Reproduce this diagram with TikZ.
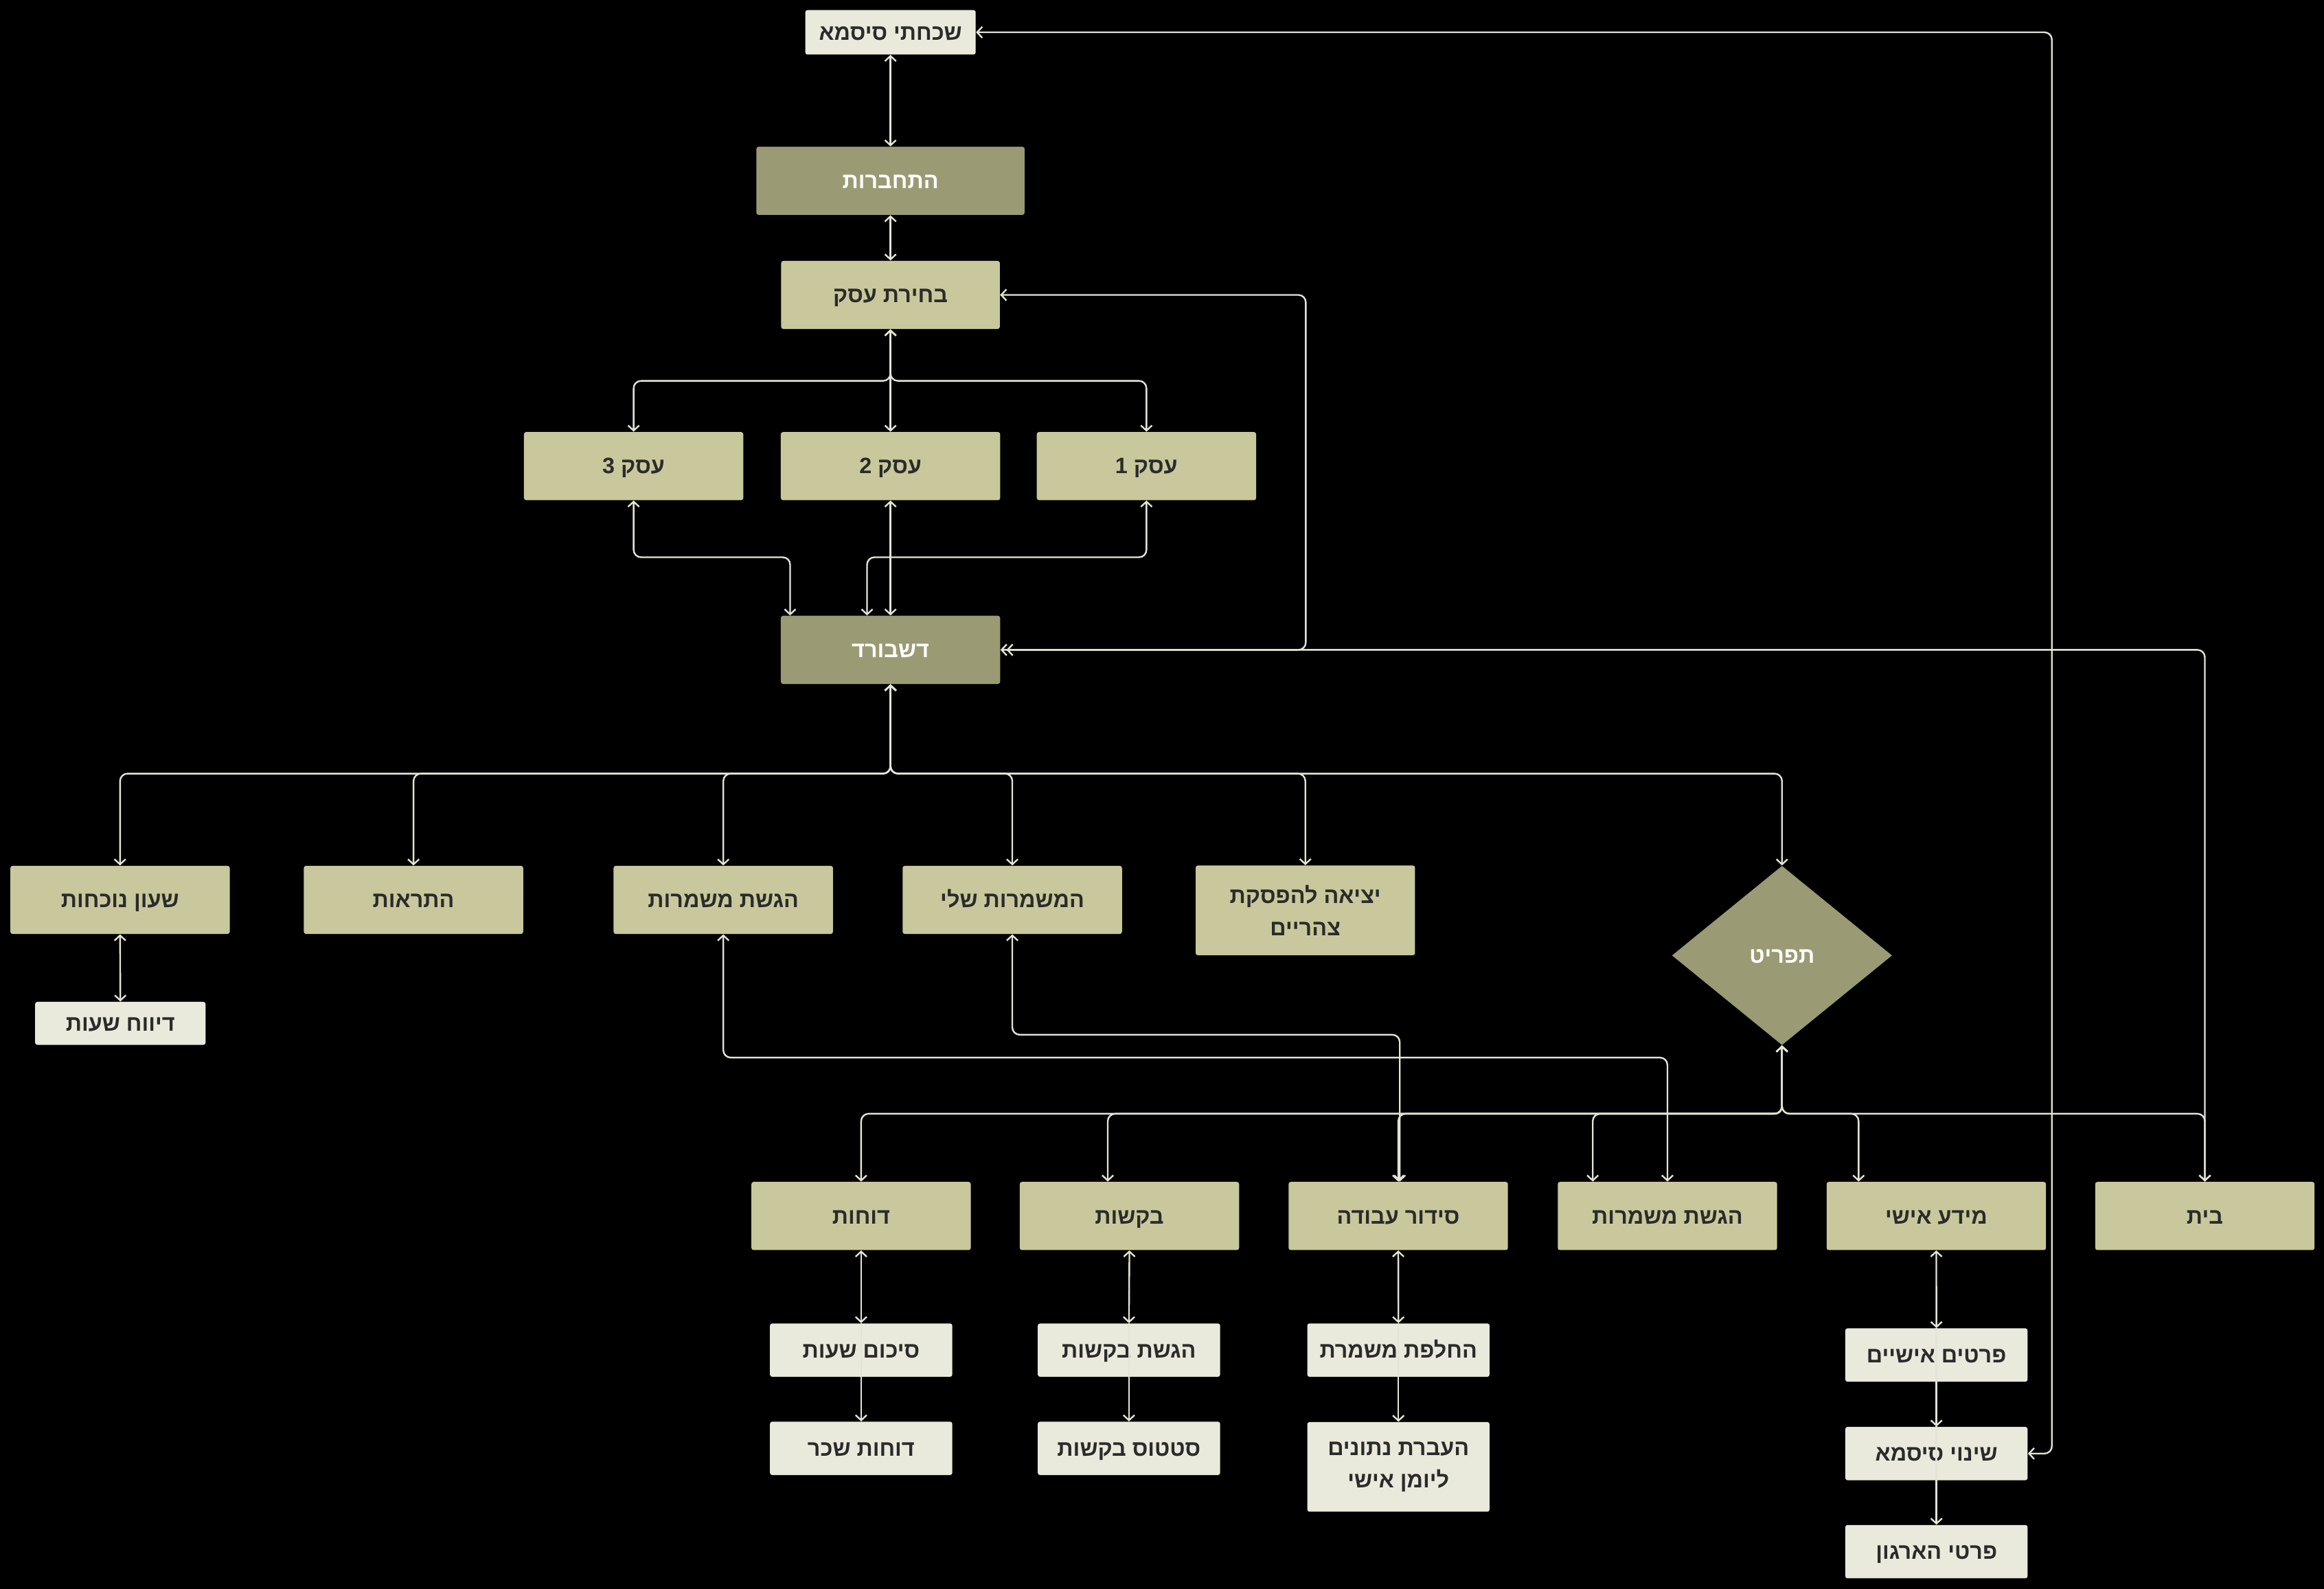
\documentclass[tikz,border=0pt]{standalone}
\usepackage{fontspec}
\TeXXeTstate=1
\newfontfamily\hebfont[Script=Hebrew]{Liberation Sans}
\usetikzlibrary{arrows.meta,shapes.geometric}
\definecolor{lightc}{HTML}{E9EADB}
\definecolor{midc}{HTML}{C8C89C}
\definecolor{darkc}{HTML}{9A9A74}
\definecolor{linec}{HTML}{E4E4D6}
\definecolor{txtc}{HTML}{2B2B2B}
\newcommand\hb[1]{\beginR #1\endR}
\begin{document}
\begin{tikzpicture}[x=1pt,y=-1pt,
  box/.style={rectangle, rounded corners=1.5pt, inner sep=0pt, align=center, text=txtc,
    text height=10.6pt, text depth=0.2pt,
    font=\hebfont\bfseries\fontsize{15}{22}\selectfont},
  twoline/.style={text height={}, text depth={}},
  lightbox/.style={box, fill=lightc, minimum width=123pt, minimum height=36pt},
  midbox/.style={box, fill=midc, minimum width=148pt, minimum height=46pt},
  darkbox/.style={box, fill=darkc, text=white, minimum width=148pt, minimum height=46pt},
  conn/.style={draw=linec, line width=1.1pt, rounded corners=5pt},
  >={Straight Barb[length=3.5pt,width=7.5pt]}
]
\fill[black] (0,0) rectangle (1568,1072);
\useasboundingbox (0,0) rectangle (1568,1072);

% top column
\node[lightbox, minimum width=115pt, minimum height=30pt] (forgot) at (600.8,21.8) {\hb{שכחתי סיסמא}};
\node[darkbox, minimum width=181pt] (login) at (600.8,122) {\hb{התחברות}};
\node[midbox, minimum width=147.5pt] (choose) at (600.8,199) {\hb{בחירת עסק}};
\node[midbox] (b3) at (427.5,314.5) {\hb{עסק 3}};
\node[midbox] (b2) at (600.8,314.5) {\hb{עסק 2}};
\node[midbox] (b1) at (773.5,314.5) {\hb{עסק 1}};
\node[darkbox] (dash) at (600.8,438.5) {\hb{דשבורד}};

% row 1
\node[midbox] (clock) at (81,607.2) {\hb{שעון נוכחות}};
\node[midbox] (alerts) at (279,607.2) {\hb{התראות}};
\node[midbox] (shifts1) at (488,607.2) {\hb{הגשת משמרות}};
\node[midbox] (mine) at (683,607.2) {\hb{המשמרות שלי}};
\node[midbox, twoline, minimum height=60.6pt] (lunch) at (880.7,614.3) {\hb{יציאה להפסקת}\\\hb{צהריים}};
\node[diamond, fill=darkc, minimum width=148.5pt, minimum height=121pt, inner sep=0pt,
  text=white, text height=10.6pt, text depth=0.2pt,
  font=\hebfont\bfseries\fontsize{15}{22}\selectfont] (menu) at (1202.3,644.7) {\hb{תפריט}};
\node[lightbox, minimum width=115pt, minimum height=29pt] (hours) at (81.2,690.5) {\hb{דיווח שעות}};

% row 2
\node[midbox] (rep) at (581,820.5) {\hb{דוחות}};
\node[midbox] (req) at (762,820.5) {\hb{בקשות}};
\node[midbox] (sched) at (943.4,820.5) {\hb{סידור עבודה}};
\node[midbox] (shifts2) at (1125,820.5) {\hb{הגשת משמרות}};
\node[midbox] (info) at (1306.4,820.5) {\hb{מידע אישי}};
\node[midbox] (home) at (1487.6,820.5) {\hb{בית}};

% row 3
\node[lightbox] (sum) at (581,911) {\hb{סיכום שעות}};
\node[lightbox] (pay) at (581,977.3) {\hb{דוחות שכר}};
\node[lightbox] (reqsub) at (761.7,911) {\hb{הגשת בקשות}};
\node[lightbox] (reqstat) at (761.7,977.3) {\hb{סטטוס בקשות}};
\node[lightbox] (swap) at (943.5,911) {\hb{החלפת משמרת}};
\node[lightbox, twoline, minimum height=60.5pt] (sync) at (943.5,989.8) {\hb{העברת נתונים}\\\hb{ליומן אישי}};
\node[lightbox] (pers) at (1306.5,914.3) {\hb{פרטים אישיים}};
\node[lightbox] (pwd) at (1306.5,980.8) {\hb{שינוי סיסמא}};
\node[lightbox] (org) at (1306.5,1047) {\hb{פרטי הארגון}};

% helper coordinates
\coordinate (busC) at (0,257);
\coordinate (busD) at (0,376);
\coordinate (busE) at (0,522);
\coordinate (busG) at (0,751.5);
\coordinate (yK) at (0,713.6);
\coordinate (yL) at (0,698.2);
\coordinate (xI) at (881,0);
\coordinate (xJ) at (1384.4,0);
\coordinate (d3in) at ([xshift=6.5pt]dash.north west);
\coordinate (d1in) at ([xshift=-15.8pt]dash.north);
\coordinate (reqin) at ([xshift=-14.6pt]req.north);
\coordinate (sh2in) at ([xshift=-50.4pt]shifts2.north);
\coordinate (infoin) at ([xshift=-52.4pt]info.north);
\coordinate (schedin) at ([xshift=1pt]sched.north);

% connectors
\draw[conn,<->] (forgot.south) -- (login.north);
\draw[conn,<->] (login.south) -- (choose.north);
\draw[conn,<->] (choose.south) -- (b2.north);
\draw[conn,<->] (choose.south) |- (b1.north |- busC) -- (b1.north);
\draw[conn,<->] (choose.south) |- (b3.north |- busC) -- (b3.north);

\draw[conn,<->] (b2.south) -- (dash.north);
\draw[conn,<->] (b3.south) |- (d3in |- busD) -- (d3in);
\draw[conn,<->] (b1.south) |- (d1in |- busD) -- (d1in);

\foreach \n in {clock,alerts,shifts1,mine,lunch,menu}
  \draw[conn,<->] (dash.south) |- (\n.north |- busE) -- (\n.north);

\draw[conn,<->] (clock.south) -- (hours.north);

\foreach \n in {rep.north,reqin,sched.north,sh2in,infoin,home.north}
  \draw[conn,<->] (menu.south) |- (\n |- busG) -- (\n);

\draw[conn,<->] (home.north) |- (dash.east);
\draw[conn,<->, shorten <=4pt] (dash.east) -| (xI |- choose.east) -- (choose.east);
\draw[conn,<->] (forgot.east) -| (xJ |- pwd.east) -- (pwd.east);
\draw[conn,<->] (shifts2.north) |- (shifts1.south |- yK) -- (shifts1.south);
\draw[conn,<->] (schedin) |- (mine.south |- yL) -- (mine.south);

\draw[conn,<->] (rep.south) -- (sum.north);
\draw[conn,->] (sum.north) -- (pay.north);
\draw[conn,<->] (req.south) -- (reqsub.north);
\draw[conn,->] (reqsub.north) -- (reqstat.north);
\draw[conn,<->] (sched.south) -- (swap.north);
\draw[conn,->] (swap.north) -- (sync.north);
\draw[conn,<->] (info.south) -- (pers.north);
\draw[conn,->] (pers.north) -- (pwd.north);
\draw[conn,->] (pwd.north) -- (org.north);
\end{tikzpicture}
\end{document}
